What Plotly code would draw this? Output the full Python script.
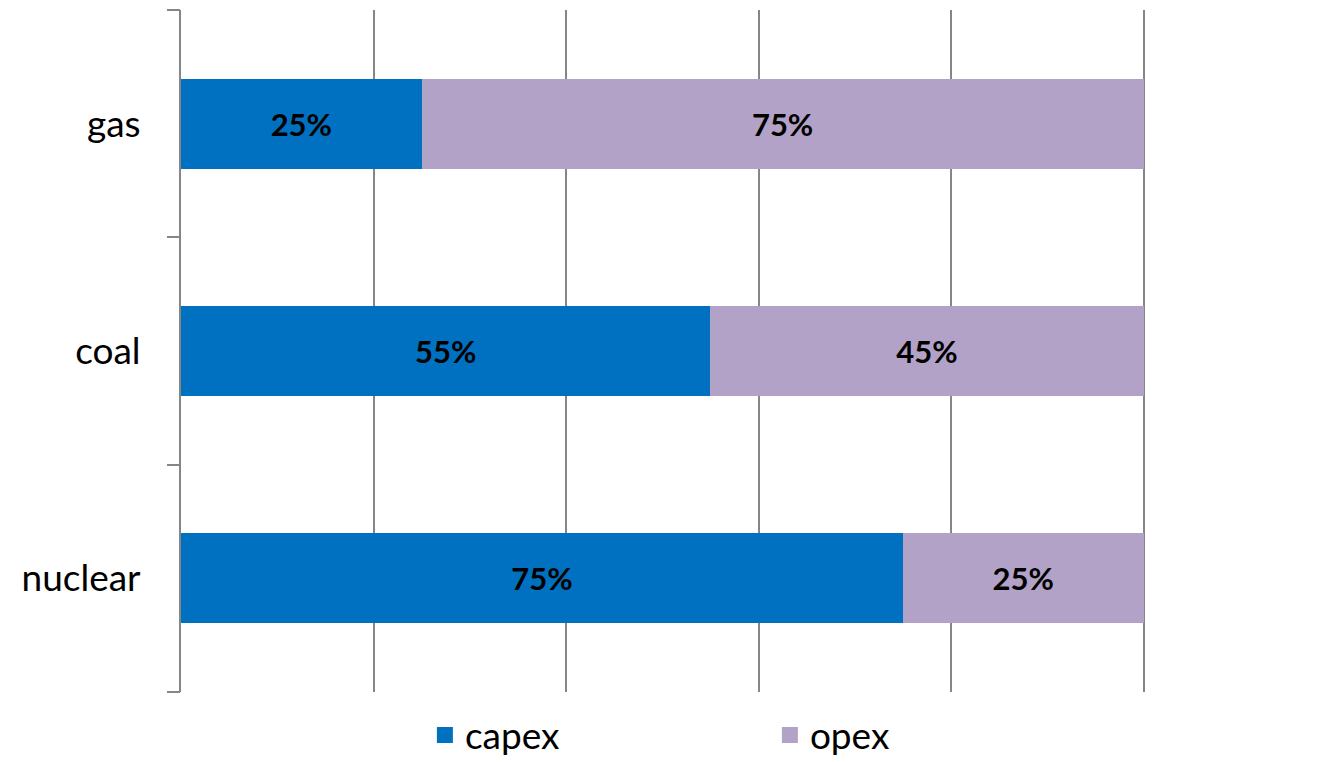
import plotly.graph_objects as go

categories = ["gas", "coal", "nuclear"]
capex = [25, 55, 75]
opex = [75, 45, 25]
series_names = ["capex", "opex"]
colors = ["#0070C0", "#B3A2C7"]

FONT = "Lato, Open Sans, sans-serif"
GRID = "#868686"

fig = go.Figure()
for name, vals, col in zip(series_names, [capex, opex], colors):
    fig.add_trace(go.Bar(
        y=categories, x=vals, name=name, orientation="h", legendgroup=name,
        showlegend=False,
        marker=dict(color=col, line=dict(width=0)),
        texttemplate="<b>%{x}%</b>", textposition="inside", insidetextanchor="middle",
        textfont=dict(size=31, color="black", family=FONT),
    ))
# legend entries with larger square swatches
for name, col in zip(series_names, colors):
    fig.add_trace(go.Scatter(
        x=[None], y=[None], mode="markers", name=name, legendgroup=name,
        marker=dict(symbol="square", size=22, color=col), hoverinfo="skip",
    ))
# invisible trace to hold the boundary-tick axis
fig.add_trace(go.Scatter(x=[0], y=[0], yaxis="y2", mode="markers",
                         marker=dict(opacity=0), showlegend=False, hoverinfo="skip"))

fig.update_layout(
    barmode="stack",
    bargap=0.605,
    width=1324, height=762,
    margin=dict(l=181, r=179, t=10, b=70, autoexpand=False),
    plot_bgcolor="white", paper_bgcolor="white",
    font=dict(family=FONT, color="black"),
    showlegend=True,
    legend=dict(orientation="h", x=0.253, xanchor="left",
                yref="container", y=0.035, yanchor="middle",
                font=dict(size=37, family=FONT), entrywidth=300, traceorder="normal"),
    xaxis=dict(range=[0, 100.15], tickvals=[0, 20, 40, 60, 80, 100], showticklabels=False,
               showgrid=True, gridcolor=GRID, gridwidth=2, zeroline=False,
               showline=False, ticks=""),
    yaxis=dict(categoryorder="array", categoryarray=categories[::-1],
               range=[-0.5, 2.5], showline=True, linecolor=GRID, linewidth=2,
               ticks="", tickfont=dict(size=37, family=FONT), ticklabelstandoff=31,
               showgrid=False, zeroline=False),
    yaxis2=dict(overlaying="y", range=[-0.5, 2.5], tickvals=[-0.5, 0.5, 1.5, 2.5],
                ticks="outside", ticklen=13, tickwidth=2, tickcolor=GRID,
                showticklabels=False, showgrid=False, zeroline=False, showline=False),
)

fig.write_html("out.html")
